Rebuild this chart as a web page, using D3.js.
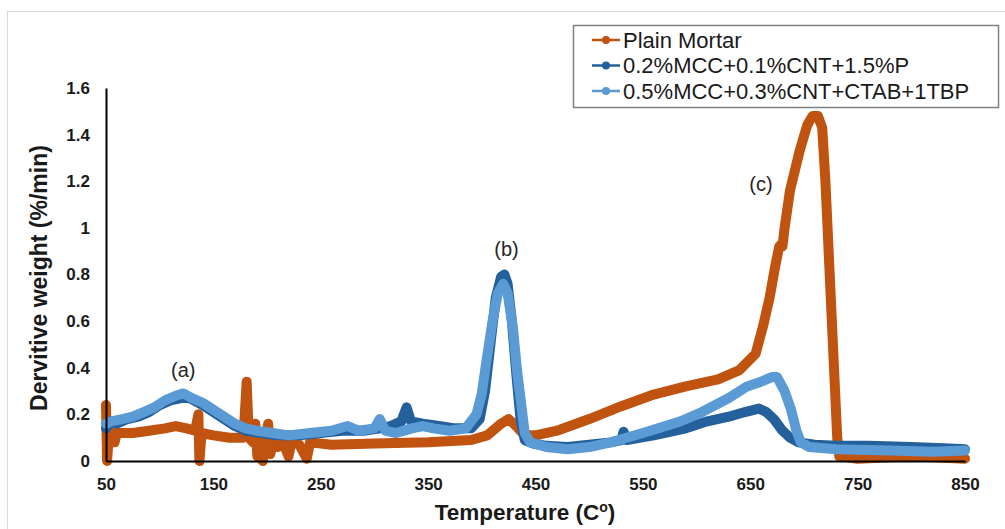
<!DOCTYPE html>
<html>
<head>
<meta charset="utf-8">
<script src="https://cdn.jsdelivr.net/npm/d3@7"></script>
<style>
  body { margin: 0; background: #fff; }
  svg { font-family: "Liberation Sans", Arial, sans-serif; }
</style>
</head>
<body>
<script>
var width = 1005
var height = 529

// x ticks / y ticks
var xTicks = [50, 150, 250, 350, 450, 550, 650, 750, 850]
var yTicks = [0, 0.2, 0.4, 0.6, 0.8, 1, 1.2, 1.4, 1.6]

var seriesNames = ["Plain Mortar", "0.2%MCC+0.1%CNT+1.5%P", "0.5%MCC+0.3%CNT+CTAB+1TBP"]
var seriesColors = ["#c0530f", "#23609c", "#5b9bd5"]

// [temperature, derivative weight]
var plainMortar = [
  [50, 0.24], [51, 0.0], [53, 0.13], [57, 0.12], [58, 0.08], [60, 0.12], [75, 0.12],
  [90, 0.13], [105, 0.14], [115, 0.15], [125, 0.14], [133, 0.13], [136, 0.20],
  [137, 0.0], [139, 0.12], [150, 0.11], [165, 0.10], [178, 0.10], [181, 0.34],
  [183, 0.10], [187, 0.08], [189, 0.16], [191, 0.02], [194, 0.12], [196, 0.0],
  [199, 0.10], [201, 0.16], [203, 0.03], [206, 0.09], [210, 0.06], [215, 0.08],
  [220, 0.02], [223, 0.09], [230, 0.07], [237, 0.01], [240, 0.08], [260, 0.07],
  [300, 0.075], [350, 0.08], [390, 0.09], [405, 0.11], [418, 0.16], [425, 0.18],
  [432, 0.15], [440, 0.11], [450, 0.11], [470, 0.13], [500, 0.18], [530, 0.235],
  [560, 0.285], [590, 0.32], [620, 0.35], [640, 0.39], [655, 0.46], [662, 0.58],
  [668, 0.70], [673, 0.83], [677, 0.92], [679, 0.93], [680, 0.92], [682, 1.0],
  [687, 1.16], [696, 1.33], [703, 1.44], [708, 1.48], [713, 1.48], [717, 1.43],
  [720, 1.2], [724, 0.8], [728, 0.4], [731, 0.1], [733, 0.02], [750, 0.01],
  [800, 0.02], [850, 0.01]
]

var mcc02 = [
  [50, 0.14], [55, 0.17], [60, 0.16], [70, 0.18], [80, 0.19], [90, 0.21], [100, 0.24],
  [110, 0.26], [120, 0.27], [128, 0.27], [140, 0.24], [150, 0.21], [160, 0.18],
  [170, 0.15], [180, 0.13], [195, 0.12], [210, 0.11], [230, 0.11], [250, 0.12],
  [270, 0.13], [290, 0.13], [305, 0.14], [315, 0.15], [325, 0.17], [330, 0.23],
  [334, 0.17], [345, 0.16], [360, 0.15], [375, 0.14], [390, 0.14], [398, 0.18],
  [403, 0.30], [408, 0.50], [413, 0.70], [418, 0.79], [421, 0.80], [424, 0.76],
  [428, 0.60], [432, 0.38], [436, 0.18], [440, 0.09], [448, 0.075], [460, 0.065],
  [480, 0.06], [500, 0.07], [520, 0.08], [530, 0.09], [532, 0.125], [535, 0.09],
  [560, 0.11], [590, 0.14], [610, 0.17], [630, 0.19], [645, 0.21], [658, 0.225],
  [665, 0.21], [672, 0.18], [680, 0.13], [687, 0.10], [695, 0.08], [710, 0.07],
  [730, 0.065], [760, 0.065], [800, 0.06], [830, 0.055], [850, 0.05]
]

var mcc05 = [
  [50, 0.16], [55, 0.17], [65, 0.18], [75, 0.19], [85, 0.21], [95, 0.23], [105, 0.26],
  [115, 0.28], [122, 0.29], [130, 0.27], [140, 0.25], [150, 0.22], [160, 0.19],
  [170, 0.16], [180, 0.14], [190, 0.13], [205, 0.12], [220, 0.11], [240, 0.12],
  [260, 0.13], [275, 0.15], [285, 0.13], [300, 0.14], [305, 0.18], [310, 0.13],
  [320, 0.12], [335, 0.14], [345, 0.15], [355, 0.14], [370, 0.13], [385, 0.14],
  [395, 0.2], [400, 0.29], [405, 0.45], [410, 0.60], [415, 0.72], [420, 0.76],
  [424, 0.72], [429, 0.57], [433, 0.38], [436, 0.27], [440, 0.12], [445, 0.08],
  [460, 0.06], [480, 0.05], [500, 0.06], [520, 0.08], [550, 0.12], [585, 0.17],
  [605, 0.21], [630, 0.27], [647, 0.32], [660, 0.34], [670, 0.36], [675, 0.36],
  [682, 0.30], [688, 0.22], [693, 0.13], [697, 0.08], [705, 0.06], [730, 0.05],
  [780, 0.045], [820, 0.04], [850, 0.045]
]

var labels = [["(a)", 122, 0.39], ["(b)", 423, 0.91], ["(c)", 660, 1.19]]

var svg = d3.select("body")
    .append("svg")
    .attr("width", width)
    .attr("height", height)

// outer chart frame
svg.append("rect")
    .attr("x", 7.5).attr("y", 11.5)
    .attr("width", 1010).attr("height", 540)
    .attr("fill", "none")
    .attr("stroke", "#d9d9d9")

var x = d3.scaleLinear().domain([50, 850]).range([106, 965])
var y = d3.scaleLinear().domain([0, 1.6]).range([461, 88])

var line = d3.line()
    .x(function (d) { return x(d[0]) })
    .y(function (d) { return y(d[1]) })

var allSeries = [plainMortar, mcc02, mcc05]

svg.selectAll(".series")
    .data(allSeries)
    .enter()
    .append("path")
    .attr("class", "series")
    .attr("d", line)
    .attr("fill", "none")
    .attr("stroke", function (d, i) { return seriesColors[i] })
    .attr("stroke-width", 10)
    .attr("stroke-linejoin", "round")
    .attr("stroke-linecap", "round")

// axes
var xAxis = svg.append("g")
    .attr("transform", "translate(0," + y(0) + ")")
    .call(d3.axisBottom(x).tickValues(xTicks).tickSize(0).tickPadding(17))
var yAxis = svg.append("g")
    .attr("transform", "translate(" + x(50) + ",0)")
    .call(d3.axisLeft(y).tickValues(yTicks).tickSize(0).tickPadding(16)
        .tickFormat(function (d) { return String(+d.toFixed(1)) }))

svg.selectAll(".domain").attr("stroke", "#000").attr("stroke-width", 2)
svg.selectAll(".tick text")
    .attr("font-family", "Liberation Sans, Arial, sans-serif")
    .attr("font-size", 17)
    .attr("font-weight", "bold")
    .attr("fill", "#1a1a1a")

// axis titles
var xt = svg.append("text")
    .attr("x", 525).attr("y", 520)
    .attr("text-anchor", "middle")
    .attr("font-size", 22.5)
    .attr("font-weight", "bold")
    .attr("fill", "#1a1a1a")
xt.append("tspan").text("Temperature (C")
xt.append("tspan").attr("font-size", 14).attr("dy", -8).text("o")
xt.append("tspan").attr("dy", 8).text(")")

svg.append("text")
    .attr("transform", "translate(47,278) rotate(-90)")
    .attr("text-anchor", "middle")
    .attr("font-size", 23)
    .attr("font-weight", "bold")
    .attr("fill", "#1a1a1a")
    .text("Dervitive weight (%/min)")

// peak annotations
svg.selectAll(".anno")
    .data(labels)
    .enter()
    .append("text")
    .attr("class", "anno")
    .attr("x", function (d) { return x(d[1]) })
    .attr("y", function (d) { return y(d[2]) })
    .attr("text-anchor", "middle")
    .attr("dominant-baseline", "central")
    .attr("font-size", 20)
    .attr("fill", "#262626")
    .text(function (d) { return d[0] })

// legend
var legend = svg.append("g")
legend.append("rect")
    .attr("x", 573.5).attr("y", 25.5)
    .attr("width", 425).attr("height", 82)
    .attr("fill", "#fff")
    .attr("stroke", "#808080")
    .attr("stroke-width", 1.5)

var rows = legend.selectAll(".row")
    .data(seriesNames)
    .enter()
    .append("g")
    .attr("class", "row")
    .attr("transform", function (d, i) { return "translate(0," + (40 + i * 25.5) + ")" })

rows.append("line")
    .attr("x1", 592).attr("x2", 620)
    .attr("stroke", function (d, i) { return seriesColors[i] })
    .attr("stroke-width", 2.5)
rows.append("circle")
    .attr("cx", 606).attr("r", 4)
    .attr("fill", function (d, i) { return seriesColors[i] })
rows.append("text")
    .attr("x", 623)
    .attr("dominant-baseline", "central")
    .attr("font-size", 22)
    .attr("fill", "#1a1a1a")
    .text(function (d) { return d })
</script>
</body>
</html>
